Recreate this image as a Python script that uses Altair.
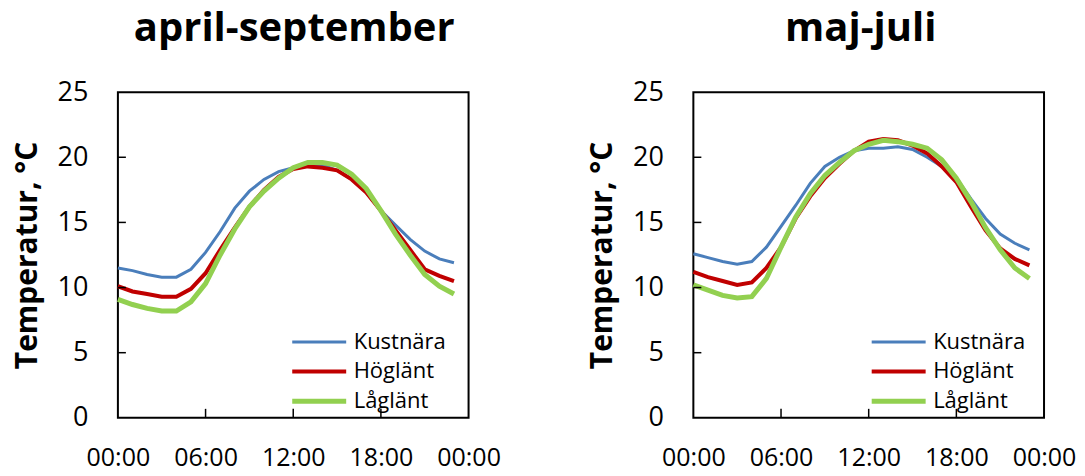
import altair as alt
import pandas as pd

hours = list(range(24))
series = ["Kustnära", "Höglänt", "Låglänt"]
periods = ["april-september", "maj-juli"]

# april-september
as_kust = [11.5, 11.3, 11.0, 10.8, 10.8, 11.4, 12.7, 14.3, 16.1, 17.4, 18.3, 18.9,
           19.2, 19.4, 19.4, 19.0, 18.3, 17.3, 15.9, 14.8, 13.7, 12.8, 12.2, 11.9]
as_hog = [10.1, 9.7, 9.5, 9.3, 9.3, 9.9, 11.1, 12.9, 14.6, 16.2, 17.5, 18.5,
          19.1, 19.3, 19.2, 19.0, 18.3, 17.3, 15.9, 14.4, 12.9, 11.4, 10.9, 10.5]
as_lag = [9.1, 8.7, 8.4, 8.2, 8.2, 8.9, 10.3, 12.5, 14.5, 16.2, 17.4, 18.4,
          19.2, 19.6, 19.6, 19.4, 18.7, 17.6, 15.9, 14.1, 12.5, 11.0, 10.1, 9.5]

# maj-juli
mj_kust = [12.6, 12.3, 12.0, 11.8, 12.0, 13.1, 14.7, 16.3, 18.0, 19.3, 20.0, 20.5,
           20.7, 20.7, 20.8, 20.6, 20.0, 19.3, 18.4, 16.8, 15.3, 14.1, 13.4, 12.9]
mj_hog = [11.2, 10.8, 10.5, 10.2, 10.4, 11.5, 13.1, 15.3, 17.0, 18.4, 19.5, 20.5,
          21.2, 21.4, 21.3, 20.9, 20.3, 19.3, 18.1, 16.2, 14.4, 13.0, 12.2, 11.7]
mj_lag = [10.2, 9.8, 9.4, 9.2, 9.3, 10.7, 13.1, 15.4, 17.2, 18.6, 19.6, 20.5,
          21.0, 21.3, 21.2, 21.0, 20.7, 19.8, 18.4, 16.6, 14.6, 12.9, 11.5, 10.7]

y_ticks = [0, 5, 10, 15, 20, 25]
x_ticks = [0, 6, 12, 18, 24]
y_inner_ticks = [5, 10, 15, 20]
x_inner_ticks = [6, 12, 18]
colors = ["#4A7EBB", "#C00000", "#92D050"]
widths = [3, 5, 5]

rows = []
for period, vals in zip(periods, [[as_kust, as_hog, as_lag], [mj_kust, mj_hog, mj_lag]]):
    for s, v in zip(series, vals):
        for h, t in zip(hours, v):
            rows.append({"period": period, "serie": s, "hour": h, "temp": t})
df = pd.DataFrame(rows)

FONT = "Open Sans"
W, H = 351, 326

xscale = alt.Scale(domain=[0, 24], nice=False, zero=False)
yscale = alt.Scale(domain=[0, 25], nice=False)

xaxis = alt.Axis(
    values=x_ticks, title=None, domain=False, ticks=False, tickSize=0, grid=False,
    labelFontSize=25, labelFont=FONT, labelColor="#000000", labelPadding=28,
    labelFlush=False, labelOverlap=False,
    labelExpr="(datum.value % 24 < 10 ? '0' : '') + (datum.value % 24) + ':00'")
yaxis = alt.Axis(
    values=y_ticks, title="Temperatur, °C", domain=False, ticks=False, tickSize=0,
    grid=False, labelFontSize=27, labelFont=FONT, labelColor="#000000",
    labelPadding=30, titleFont=FONT, titleFontSize=30, titleFontWeight="bold",
    titleColor="#000000", titlePadding=15)


def panel(period, leg_x, title_dx):
    legend = alt.Legend(
        orient="none", legendX=leg_x, legendY=239, title=None,
        symbolType="M-3,0H3", symbolSize=324, labelFontSize=22, labelFont=FONT,
        labelColor="#000000", rowPadding=7.5, padding=0, labelOffset=23,
    )
    lines = alt.Chart(df).transform_filter(alt.datum.period == period).mark_line().encode(
        x=alt.X("hour:Q", scale=xscale, axis=xaxis),
        y=alt.Y("temp:Q", scale=yscale, axis=yaxis),
        color=alt.Color("serie:N", sort=series,
                        scale=alt.Scale(domain=series, range=colors), legend=legend),
        strokeWidth=alt.StrokeWidth("serie:N", sort=series,
                                    scale=alt.Scale(domain=series, range=widths), legend=legend),
        detail="serie:N",
    )
    ytick = alt.Chart(pd.DataFrame({"temp": y_inner_ticks})).mark_rule(
        color="#000000", strokeWidth=1.5).encode(
        y=alt.Y("temp:Q", scale=yscale, axis=yaxis), x=alt.value(0), x2=alt.value(8))
    xtick = alt.Chart(pd.DataFrame({"hour": x_inner_ticks})).mark_rule(
        color="#000000", strokeWidth=1.5).encode(
        x=alt.X("hour:Q", scale=xscale, axis=xaxis), y=alt.value(H), y2=alt.value(H - 9))
    return alt.layer(lines, ytick, xtick).properties(
        width=W, height=H,
        title=alt.TitleParams(period, fontSize=40, fontWeight="bold", font=FONT,
                              color="#000000", anchor="middle", frame="group", offset=29,
                              dx=title_dx),
    )


chart = alt.hconcat(panel(periods[0], 190, 1), panel(periods[1], 194, -8),
                    spacing=225, bounds="flush").resolve_scale(
    color="independent", strokeWidth="independent"
).properties(
    padding={"left": 3, "top": 0, "right": 0, "bottom": 0}, background="white"
).configure_view(
    stroke="#000000", strokeWidth=2
)

chart.save("out.html", embed_options={"renderer": "svg", "actions": False})
